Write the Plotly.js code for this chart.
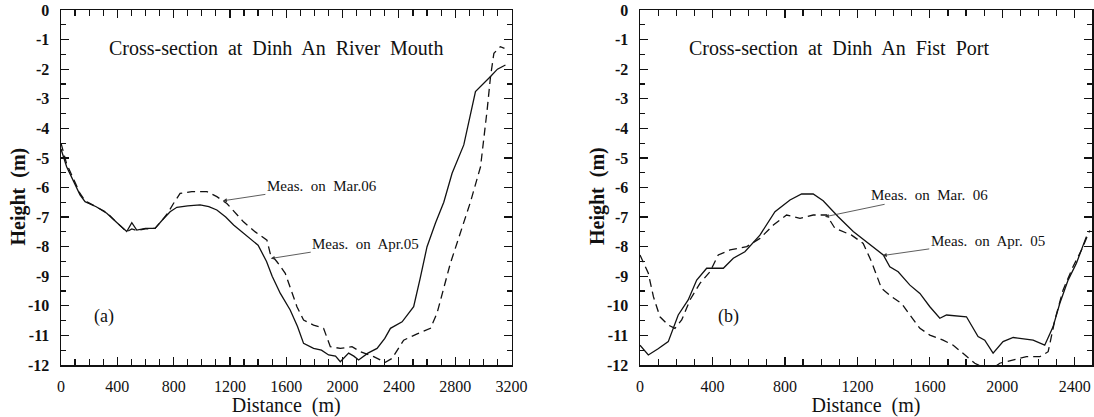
<!DOCTYPE html>
<html>
<head>
<meta charset="utf-8">
<script src="https://cdn.plot.ly/plotly-3.0.1.min.js"></script>
<style>html,body{margin:0;padding:0;background:#fff;}#chart{width:1094px;height:417px;}</style>
</head>
<body>
<div id="chart"></div>
<script>
// (a) Dinh An River Mouth
const mouthApr05X = [0, 40, 135, 171, 250, 325, 400, 467, 503, 538, 600, 668, 720, 775, 823, 900, 988, 1050, 1107, 1170, 1226, 1300, 1400, 1460, 1500, 1558, 1628, 1680, 1723, 1794, 1850, 1901, 1950, 1984, 2043, 2080, 2114, 2180, 2245, 2300, 2340, 2423, 2505, 2550, 2600, 2660, 2719, 2778, 2861, 2944, 3000, 3051, 3100, 3157];
const mouthApr05Y = [-4.7, -5.3, -6.25, -6.48, -6.65, -6.87, -7.2, -7.49, -7.19, -7.44, -7.38, -7.38, -7.1, -6.82, -6.67, -6.62, -6.59, -6.65, -6.76, -7.0, -7.27, -7.55, -7.95, -8.5, -9.0, -9.58, -10.14, -10.7, -11.27, -11.44, -11.5, -11.66, -11.7, -11.89, -11.6, -11.7, -11.83, -11.6, -11.44, -11.1, -10.76, -10.54, -10.03, -9.1, -8.0, -7.2, -6.5, -5.52, -4.56, -2.76, -2.5, -2.25, -2.0, -1.86];
const mouthMar06X = [0, 40, 135, 171, 250, 325, 400, 467, 503, 538, 600, 668, 720, 760, 799, 846, 929, 1036, 1107, 1178, 1296, 1380, 1463, 1486, 1534, 1593, 1676, 1723, 1794, 1865, 1913, 1984, 2067, 2126, 2221, 2304, 2351, 2434, 2530, 2624, 2671, 2766, 2908, 2980, 3027, 3051, 3075, 3121, 3150];
const mouthMar06Y = [-4.5, -5.2, -6.2, -6.45, -6.65, -6.85, -7.2, -7.5, -7.4, -7.45, -7.4, -7.38, -7.1, -6.85, -6.54, -6.2, -6.14, -6.14, -6.31, -6.54, -7.16, -7.5, -7.78, -8.23, -8.51, -8.9, -10.03, -10.48, -10.65, -10.76, -11.38, -11.44, -11.38, -11.55, -11.72, -11.91, -11.78, -11.16, -10.95, -10.76, -10.25, -8.56, -6.5, -5.3, -3.38, -2.25, -1.46, -1.24, -1.3];

// (b) Dinh An Fist Port
const portApr05X = [0, 46, 100, 156, 211, 266, 313, 368, 460, 515, 579, 662, 745, 828, 892, 956, 1011, 1094, 1177, 1251, 1343, 1379, 1425, 1490, 1545, 1600, 1655, 1692, 1802, 1866, 1903, 1949, 2004, 2060, 2170, 2234, 2280, 2317, 2363, 2409, 2437, 2464];
const portApr05Y = [-11.33, -11.66, -11.45, -11.21, -10.31, -9.8, -9.13, -8.73, -8.73, -8.39, -8.17, -7.61, -6.82, -6.42, -6.22, -6.22, -6.45, -6.99, -7.49, -7.83, -8.28, -8.68, -8.85, -9.3, -9.58, -10.03, -10.42, -10.31, -10.37, -11.04, -11.16, -11.6, -11.21, -11.07, -11.16, -11.33, -10.71, -9.92, -9.13, -8.56, -8.11, -7.66];
const portMar06X = [0, 46, 74, 110, 156, 193, 230, 276, 331, 386, 432, 497, 589, 662, 736, 809, 883, 956, 1030, 1076, 1168, 1232, 1278, 1333, 1389, 1444, 1490, 1545, 1600, 1673, 1729, 1784, 1848, 1900, 1950, 1986, 2060, 2133, 2207, 2253, 2290, 2335, 2390, 2437, 2483];
const portMar06Y = [-8.28, -8.9, -9.69, -10.37, -10.65, -10.76, -10.48, -9.8, -9.24, -8.85, -8.28, -8.11, -8.0, -7.72, -7.27, -6.93, -7.04, -6.93, -6.93, -7.38, -7.61, -7.89, -8.51, -9.41, -9.69, -9.92, -10.31, -10.76, -10.99, -11.16, -11.33, -11.6, -11.94, -12.1, -12.1, -11.94, -11.83, -11.72, -11.72, -11.55, -10.48, -9.47, -8.68, -8.11, -7.45];

const yTickVals = [0, -1, -2, -3, -4, -5, -6, -7, -8, -9, -10, -11, -12];
const yTickText = ['0', '-1', '-2', '-3', '-4', '-5', '-6', '-7', '-8', '-9', '-10', '-11', '-12'];
const xTicksMouth = [0, 400, 800, 1200, 1600, 2000, 2400, 2800, 3200];
const xTicksPort = [0, 400, 800, 1200, 1600, 2000, 2400];

const SERIF = 'Liberation Serif, Times New Roman, serif';
const NB = '\u00A0';

const solid = {color: '#111', width: 1.3};
const dashed = {color: '#111', width: 1.3, dash: '8px,5px'};

const traces = [
  {x: mouthApr05X, y: mouthApr05Y, mode: 'lines', line: solid, name: 'Meas. on Apr.05', xaxis: 'x', yaxis: 'y'},
  {x: mouthMar06X, y: mouthMar06Y, mode: 'lines', line: dashed, name: 'Meas. on Mar.06', xaxis: 'x', yaxis: 'y'},
  {x: portApr05X, y: portApr05Y, mode: 'lines', line: solid, name: 'Meas. on Apr. 05', xaxis: 'x2', yaxis: 'y2'},
  {x: portMar06X, y: portMar06Y, mode: 'lines', line: dashed, name: 'Meas. on Mar. 06', xaxis: 'x2', yaxis: 'y2'}
];

function xAxis(domain, range, ticks, anchor) {
  return {
    domain: domain, range: range, anchor: anchor,
    tickmode: 'array', tickvals: ticks, ticktext: ticks.map(String),
    ticks: 'inside', ticklen: 8, tickwidth: 1.2, tickcolor: '#111',
    minor: {dtick: 100, ticks: 'inside', ticklen: 6, tickwidth: 1.2, tickcolor: '#111'},
    showline: true, linecolor: '#111', linewidth: 1.5, mirror: 'ticks',
    showgrid: false, zeroline: false,
    tickfont: {family: SERIF, size: 16, color: '#111'},
    ticklabelstandoff: 6,
    title: {text: 'Distance' + NB + NB + '(m)', font: {family: SERIF, size: 20, color: '#111'}, standoff: 1},
    fixedrange: true
  };
}
function yAxis(domain, anchor) {
  return {
    domain: domain, range: [-12, 0], anchor: anchor,
    tickmode: 'array', tickvals: yTickVals, ticktext: yTickText,
    ticks: 'inside', ticklen: 8, tickwidth: 1.2, tickcolor: '#111',
    minor: {dtick: 0.5, ticks: 'inside', ticklen: 5, tickwidth: 1.2, tickcolor: '#111'},
    showline: true, linecolor: '#111', linewidth: 1.5, mirror: 'ticks',
    showgrid: false, zeroline: false,
    tickfont: {family: SERIF, size: 16, color: '#111', weight: 'bold'},
    ticklabelstandoff: 7,
    fixedrange: true
  };
}

const W = 1094, H = 417;
const yDom = [1 - 365 / H, 1 - 10 / H];

const annFont = {family: SERIF, size: 15, color: '#111'};
const arrow = {showarrow: true, arrowhead: 2, arrowsize: 1, arrowwidth: 0.8, arrowcolor: '#333', standoff: 0};

const annotations = [
  {xref: 'x', yref: 'y', x: 1529, y: -1.28, text: 'Cross-section' + NB + ' at' + NB + ' Dinh' + NB + ' An' + NB + ' River' + NB + ' Mouth', showarrow: false, font: {family: SERIF, size: 20, color: '#111'}},
  {xref: 'x2', yref: 'y2', x: 1098, y: -1.28, text: 'Cross-section' + NB + ' at' + NB + ' Dinh' + NB + ' An' + NB + ' Fist' + NB + ' Port', showarrow: false, font: {family: SERIF, size: 20, color: '#111'}},
  {xref: 'x', yref: 'y', x: 306, y: -10.37, text: '(a)', showarrow: false, font: {family: SERIF, size: 18, color: '#111'}},
  {xref: 'x2', yref: 'y2', x: 491, y: -10.37, text: '(b)', showarrow: false, font: {family: SERIF, size: 18, color: '#111'}},
  Object.assign({xref: 'x', yref: 'y', x: 1150, y: -6.45, ax: 99, ay: -15, text: 'Meas.' + NB + ' on' + NB + ' Mar.06', font: annFont}, arrow),
  Object.assign({xref: 'x', yref: 'y', x: 1490, y: -8.4, ax: 95, ay: -15, text: 'Meas.' + NB + ' on' + NB + ' Apr.05', font: annFont}, arrow),
  Object.assign({xref: 'x2', yref: 'y2', x: 1021, y: -6.99, ax: 105, ay: -22, text: 'Meas.' + NB + ' on' + NB + ' Mar.' + NB + ' 06', font: annFont}, arrow),
  Object.assign({xref: 'x2', yref: 'y2', x: 1340, y: -8.3, ax: 105, ay: -15, text: 'Meas.' + NB + ' on' + NB + ' Apr.' + NB + ' 05', font: annFont}, arrow),
  {xref: 'paper', yref: 'paper', x: 18 / W, y: 1 - 196.5 / H, xanchor: 'center', yanchor: 'middle', text: 'Height' + NB + NB + '(m)', textangle: -90, showarrow: false, font: {family: SERIF, size: 20, color: '#111', weight: 'bold'}},
  {xref: 'paper', yref: 'paper', x: 598 / W, y: 1 - 196 / H, xanchor: 'center', yanchor: 'middle', text: 'Height' + NB + NB + '(m)', textangle: -90, showarrow: false, font: {family: SERIF, size: 20, color: '#111', weight: 'bold'}}
];

const layout = {
  width: W, height: H,
  margin: {l: 0, r: 0, t: 0, b: 0, pad: 0},
  paper_bgcolor: '#fff', plot_bgcolor: '#fff',
  showlegend: false,
  xaxis: xAxis([61 / W, 511.5 / W], [0, 3200], xTicksMouth, 'y'),
  yaxis: yAxis(yDom, 'x'),
  xaxis2: xAxis([640 / W, 1092 / W], [0, 2495], xTicksPort, 'y2'),
  yaxis2: yAxis(yDom, 'x2'),
  annotations: annotations
};

Plotly.newPlot('chart', traces, layout, {staticPlot: true, displayModeBar: false});
</script>
</body>
</html>
